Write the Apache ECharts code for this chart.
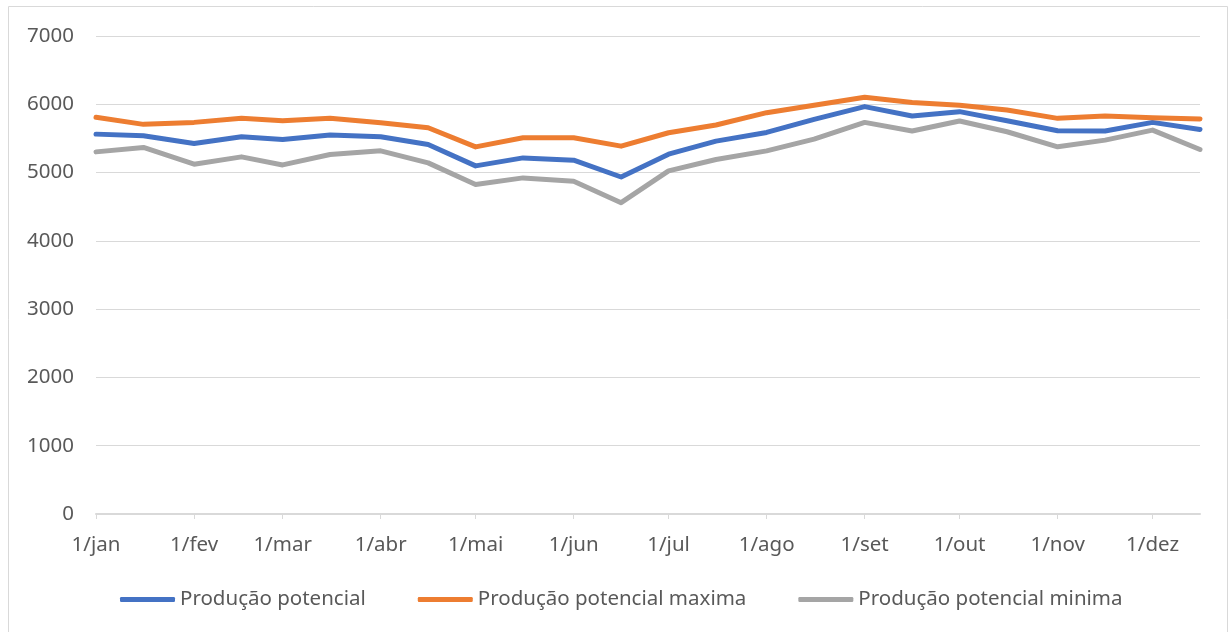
<!DOCTYPE html>
<html>
<head>
<meta charset="utf-8">
<script src="https://cdn.jsdelivr.net/npm/echarts@6/dist/echarts.min.js"></script>
<style>
html,body{margin:0;padding:0;background:#fff;}
#c{width:1229px;height:632px;}
</style>
</head>
<body>
<div id="c"></div>
<script>
const dates = ['2021-01-01','2021-01-16','2021-02-01','2021-02-16','2021-03-01','2021-03-16','2021-04-01','2021-04-16','2021-05-01','2021-05-16','2021-06-01','2021-06-16','2021-07-01','2021-07-16','2021-08-01','2021-08-16','2021-09-01','2021-09-16','2021-10-01','2021-10-16','2021-11-01','2021-11-16','2021-12-01','2021-12-16'];
const monthTicks = ['2021-01-01','2021-02-01','2021-03-01','2021-04-01','2021-05-01','2021-06-01','2021-07-01','2021-08-01','2021-09-01','2021-10-01','2021-11-01','2021-12-01'];
const monthNames = ['jan','fev','mar','abr','mai','jun','jul','ago','set','out','nov','dez'];
const seriesNames = ['Produção potencial','Produção potencial maxima','Produção potencial minima'];
const potencial = [5563,5538,5426,5524,5485,5549,5524,5412,5098,5215,5181,4935,5270,5460,5588,5780,5966,5828,5892,5760,5613,5608,5735,5632];
const maxima = [5809,5706,5735,5794,5760,5794,5730,5656,5376,5509,5509,5387,5583,5696,5877,5985,6103,6025,5985,5916,5794,5828,5804,5784];
const minima = [5303,5368,5122,5230,5112,5265,5318,5142,4824,4922,4873,4559,5024,5191,5318,5490,5735,5608,5755,5598,5377,5475,5622,5338];

const DAY = 86400000;
function dayIndex(s){ const p = s.split('-').map(Number); return Math.round((Date.UTC(p[0], p[1]-1, p[2]) - Date.UTC(p[0],0,1)) / DAY); }
const tickVals = monthTicks.map(dayIndex);
const colors = ['#4472C4','#ED7D31','#A5A5A5'];
const font = 'Noto Sans';
const txt = '#595959';
const fs = 20.5;

const chart = echarts.init(document.getElementById('c'));
function mk(name, vals, color){
  return {
    name: name, type: 'line', symbol: 'none', color: color,
    lineStyle: {width: 5, color: color, cap: 'round', join: 'round'},
    data: dates.map((d,i) => [dayIndex(d), vals[i]])
  };
}
chart.setOption({
  animation: false,
  graphic: [{type:'rect', shape:{x:8.5,y:6.5,width:1219,height:640}, style:{fill:'none', stroke:'#d9d9d9', lineWidth:1}, silent:true}],
  grid: {left: 96, right: 29, top: 36, bottom: 118, containLabel: false},
  legend: {
    left: 120, top: 589, padding: 0, itemWidth: 55, itemHeight: 5, itemGap: 52, icon: 'roundRect',
    textStyle: {fontFamily: font, fontSize: fs, color: txt},
    data: seriesNames
  },
  xAxis: {
    type: 'value', min: dayIndex(dates[0]), max: dayIndex(dates[dates.length-1]),
    axisLine: {show: true, onZero: false, lineStyle: {color: '#d9d9d9', width: 2}},
    axisTick: {show: true, length: 5, lineStyle: {color: '#d9d9d9'}, customValues: tickVals},
    splitLine: {show: false},
    axisLabel: {
      customValues: tickVals, margin: 21, fontFamily: font, fontSize: fs, color: txt,
      formatter: function(v){ const i = tickVals.indexOf(Math.round(v)); return i >= 0 ? '1/' + monthNames[i] : ''; }
    }
  },
  yAxis: {
    type: 'value', min: 0, max: 7000, interval: 1000,
    axisLine: {show: false}, axisTick: {show: false},
    splitLine: {lineStyle: {color: '#d9d9d9', width: 1}},
    axisLabel: {margin: 22, fontFamily: font, fontSize: fs, color: txt, formatter: function(v){ return String(v); }}
  },
  series: [mk(seriesNames[0], potencial, colors[0]), mk(seriesNames[1], maxima, colors[1]), mk(seriesNames[2], minima, colors[2])]
});
</script>
</body>
</html>
